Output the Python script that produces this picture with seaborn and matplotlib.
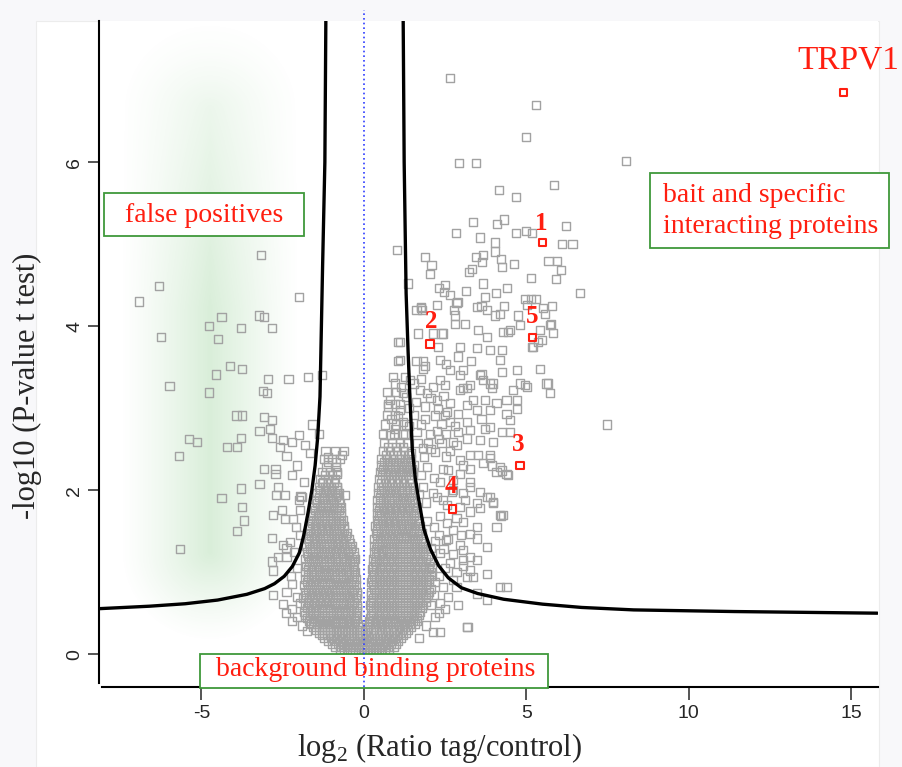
import numpy as np
import pandas as pd
import matplotlib
matplotlib.use('Agg')
import matplotlib.pyplot as plt
import seaborn as sns
from matplotlib.patches import Rectangle

# ---------------- data ----------------

# dense cloud around the origin, one row per line:  y | x values
core_rows = """
0.02 | -0.62 -0.44 -0.26 -0.08 0.10 0.28 0.46 0.64
0.055 | -0.74 -0.53 -0.35 -0.17 0.01 0.19 0.37 0.55 0.78
0.09 | -0.88 -0.70 -0.52 -0.34 -0.16 0.02 0.20 0.38 0.56 0.74 0.92
0.125 | -0.99 -0.79 -0.61 -0.43 -0.25 -0.07 0.11 0.29 0.47 0.65 0.83 1.00
0.16 | -1.10 -0.92 -0.74 -0.56 -0.38 -0.20 -0.03 0.15 0.33 0.51 0.69 0.87 1.05
0.195 | -1.21 -1.01 -0.83 -0.65 -0.47 -0.29 -0.11 0.06 0.24 0.42 0.60 0.78 0.96 1.13
0.23 | -1.30 -1.12 -0.94 -0.76 -0.58 -0.40 -0.22 -0.05 0.12 0.30 0.48 0.66 0.84 1.02 1.20
0.265 | -1.39 -1.21 -1.03 -0.85 -0.67 -0.49 -0.31 -0.13 0.04 0.21 0.39 0.57 0.75 0.93 1.11 1.29
0.30 | -1.48 -1.30 -1.12 -0.94 -0.76 -0.58 -0.40 -0.22 -0.06 0.11 0.28 0.46 0.64 0.82 1.00 1.18 1.36
0.335 | -1.55 -1.39 -1.21 -1.03 -0.85 -0.67 -0.49 -0.31 -0.13 0.14 0.37 0.55 0.73 0.91 1.09 1.27 1.45
0.37 | -1.62 -1.44 -1.26 -1.08 -0.90 -0.72 -0.54 -0.36 -0.18 0.18 0.34 0.52 0.70 0.88 1.06 1.24 1.42 1.56
0.405 | -1.69 -1.53 -1.35 -1.17 -0.99 -0.81 -0.63 -0.45 -0.27 0.17 0.25 0.43 0.61 0.79 0.97 1.15 1.33 1.51 1.64
0.44 | -1.75 -1.57 -1.39 -1.21 -1.03 -0.85 -0.67 -0.49 -0.31 -0.20 0.20 0.38 0.56 0.74 0.92 1.10 1.28 1.46 1.64
0.48 | -1.80 -1.66 -1.48 -1.30 -1.12 -0.94 -0.76 -0.58 -0.40 -0.24 0.22 0.29 0.47 0.65 0.83 1.01 1.19 1.37 1.55 1.71
0.52 | -1.84 -1.66 -1.48 -1.30 -1.12 -0.94 -0.76 -0.58 -0.40 -0.22 0.29 0.47 0.65 0.83 1.01 1.19 1.37 1.55 1.73
0.56 | -1.75 -1.57 -1.39 -1.21 -1.03 -0.85 -0.67 -0.49 -0.31 -0.20 0.21 0.38 0.56 0.74 0.92 1.10 1.28 1.46 1.64 1.80
0.60 | -1.80 -1.62 -1.44 -1.26 -1.08 -0.90 -0.72 -0.54 -0.36 -0.21 0.20 0.38 0.56 0.74 0.92 1.10 1.28 1.46 1.64 1.82
0.64 | -1.71 -1.53 -1.35 -1.17 -0.99 -0.81 -0.63 -0.45 -0.30 0.23 0.29 0.47 0.65 0.83 1.01 1.19 1.37 1.55 1.73 1.90
0.68 | -1.86 -1.68 -1.50 -1.32 -1.14 -0.96 -0.78 -0.60 -0.42 -0.24 0.29 0.47 0.65 0.83 1.01 1.19 1.37 1.55 1.73 1.91
0.72 | -1.77 -1.59 -1.41 -1.23 -1.05 -0.87 -0.69 -0.51 -0.33 -0.22 0.21 0.38 0.56 0.74 0.92 1.10 1.28 1.46 1.64 1.82 1.98
0.76 | -1.80 -1.62 -1.44 -1.26 -1.08 -0.90 -0.72 -0.54 -0.36 -0.22 0.22 0.38 0.56 0.74 0.92 1.10 1.28 1.46 1.64 1.82 2.00
0.80 | -1.71 -1.53 -1.35 -1.17 -0.99 -0.81 -0.63 -0.45 -0.30 0.30 0.47 0.65 0.83 1.01 1.19 1.37 1.55 1.73 1.91 2.05
0.84 | -1.84 -1.66 -1.48 -1.30 -1.12 -0.94 -0.76 -0.58 -0.40 -0.24 0.29 0.47 0.65 0.83 1.01 1.19 1.37 1.55 1.73 1.91
0.88 | -1.75 -1.57 -1.39 -1.21 -1.03 -0.85 -0.67 -0.49 -0.32 0.22 0.38 0.56 0.74 0.92 1.10 1.28 1.46 1.64 1.82 2.00
0.92 | -1.80 -1.62 -1.44 -1.26 -1.08 -0.90 -0.72 -0.54 -0.36 -0.25 0.24 0.38 0.56 0.74 0.92 1.10 1.28 1.46 1.64 1.82 2.00
0.96 | -1.71 -1.53 -1.35 -1.17 -0.99 -0.81 -0.63 -0.45 -0.31 0.31 0.47 0.65 0.83 1.01 1.19 1.37 1.55 1.73 1.91 2.08
1.00 | -1.82 -1.64 -1.46 -1.28 -1.10 -0.92 -0.74 -0.56 -0.38 -0.26 0.29 0.47 0.65 0.83 1.01 1.19 1.37 1.55 1.73 1.91 2.06
1.04 | -1.73 -1.55 -1.37 -1.19 -1.01 -0.83 -0.65 -0.47 -0.30 0.26 0.38 0.56 0.74 0.92 1.10 1.28 1.46 1.64 1.82 2.00
1.08 | -1.78 -1.60 -1.42 -1.24 -1.06 -0.88 -0.70 -0.52 -0.34 0.27 0.38 0.56 0.74 0.92 1.10 1.28 1.46 1.64 1.82 2.00
1.12 | -1.69 -1.51 -1.33 -1.15 -0.97 -0.79 -0.61 -0.43 -0.30 0.33 0.47 0.65 0.83 1.01 1.19 1.37 1.55 1.73 1.91 2.04
1.16 | -1.80 -1.62 -1.44 -1.26 -1.08 -0.90 -0.72 -0.54 -0.36 -0.28 0.29 0.47 0.65 0.83 1.01 1.19 1.37 1.55 1.73 1.91
1.20 | -1.71 -1.53 -1.35 -1.17 -0.99 -0.81 -0.63 -0.45 -0.32 0.36 0.56 0.74 0.92 1.10 1.28 1.46 1.64 1.82 1.96
1.24 | -1.76 -1.58 -1.40 -1.22 -1.04 -0.86 -0.68 -0.50 -0.32 0.30 0.45 0.60 0.76 0.92 1.10 1.28 1.46 1.64 1.82
1.28 | -1.67 -1.49 -1.31 -1.13 -0.95 -0.77 -0.59 -0.41 0.38 0.52 0.69 0.85 1.01 1.19 1.37 1.55 1.73 1.90
1.32 | -1.78 -1.60 -1.42 -1.24 -1.06 -0.88 -0.70 -0.52 -0.36 0.31 0.47 0.65 0.83 1.01 1.19 1.37 1.55 1.73 1.88
1.36 | -1.69 -1.51 -1.33 -1.15 -0.97 -0.79 -0.61 -0.44 0.40 0.56 0.74 0.92 1.10 1.28 1.46 1.64 1.82
1.40 | -1.72 -1.54 -1.36 -1.18 -1.00 -0.82 -0.64 -0.46 0.32 0.50 0.68 0.86 1.04 1.22 1.40 1.58 1.76
1.44 | -1.63 -1.45 -1.27 -1.09 -0.91 -0.73 -0.55 0.41 0.59 0.77 0.95 1.13 1.31 1.49 1.67
1.48 | -1.74 -1.56 -1.38 -1.20 -1.02 -0.84 -0.66 -0.52 0.36 0.54 0.72 0.90 1.08 1.26 1.44 1.62 1.78
1.52 | -1.65 -1.47 -1.29 -1.11 -0.93 -0.75 -0.60 0.42 0.63 0.81 0.99 1.17 1.35 1.53 1.70
1.56 | -1.68 -1.50 -1.32 -1.14 -0.96 -0.78 -0.60 0.35 0.50 0.68 0.86 1.04 1.22 1.40 1.58 1.74
1.60 | -1.59 -1.41 -1.23 -1.05 -0.87 -0.69 0.43 0.59 0.77 0.95 1.13 1.31 1.49 1.66
1.64 | -1.66 -1.48 -1.30 -1.12 -0.94 -0.76 -0.64 0.40 0.56 0.74 0.92 1.10 1.28 1.46 1.62
1.68 | -1.57 -1.39 -1.21 -1.03 -0.85 -0.70 0.48 0.65 0.83 1.01 1.19 1.37 1.54
1.72 | -1.58 -1.40 -1.22 -1.04 -0.86 -0.70 0.40 0.54 0.72 0.90 1.08 1.26 1.44 1.60
1.76 | -1.49 -1.31 -1.13 -0.95 -0.77 0.47 0.63 0.81 0.99 1.17 1.35 1.52
1.80 | -1.54 -1.36 -1.18 -1.00 -0.82 -0.70 0.42 0.60 0.78 0.96 1.14 1.32 1.50 1.64
1.84 | -1.45 -1.27 -1.09 -0.91 -0.75 0.51 0.69 0.87 1.05 1.23 1.41 1.57
1.88 | -1.48 -1.30 -1.12 -0.94 -0.76 0.42 0.58 0.76 0.94 1.12 1.30 1.48
1.92 | -1.39 -1.21 -1.03 -0.85 0.50 0.67 0.85 1.03 1.21 1.39
1.96 | -1.44 -1.26 -1.08 -0.90 -0.78 0.45 0.62 0.80 0.98 1.16 1.34 1.52
2.00 | -1.35 -1.17 -0.99 -0.83 0.53 0.71 0.89 1.07 1.25 1.43
2.04 | -1.38 -1.20 -1.02 -0.84 0.45 0.60 0.78 0.96 1.14 1.32 1.50
2.09 | -1.29 -1.11 -0.93 0.52 0.69 0.87 1.05 1.23 1.41
2.14 | -1.34 -1.10 -0.88 0.48 0.66 0.84 1.02 1.20 1.38
2.18 | -1.20 -0.97 0.57 0.75 0.93 1.11 1.29 1.45
2.22 | -1.28 -1.04 -0.82 0.50 0.64 0.82 1.00 1.18 1.36 1.52
2.26 | 0.59 0.79 0.97 1.15 1.33 1.48
2.30 | 0.52 0.70 0.88 1.06 1.24 1.42
2.34 | -1.10 -0.86 0.63 0.81 0.99 1.17 1.35
2.38 | -1.22 -0.98 -0.74 0.54 0.72 0.90 1.08 1.26 1.44
2.43 | 0.69 0.91 1.13 1.36
2.48 | -1.18 -0.90 -0.62 0.58 0.80 1.02 1.24
2.53 | 0.74 0.98 1.21
2.58 | 0.62 0.86 1.10 1.32
2.68 | 0.60 0.92 1.20
2.80 | 0.66 1.00 1.30
2.92 | 0.70 0.96
3.05 | 0.74 1.10
3.20 | 0.70 1.00
"""

# scattered points left of the threshold ("false positives" side)
left_points = [
    (-3.17, 4.87), (-6.30, 4.49), (-6.92, 4.30), (-2.00, 4.35), (-4.38, 4.11), (-4.76, 4.00),
    (-4.49, 3.84), (-6.25, 3.87), (-3.79, 3.98), (-3.23, 4.13), (-3.07, 4.11), (-2.84, 3.98),
    (-4.12, 3.51), (-3.75, 3.48), (-4.54, 3.41), (-5.98, 3.27), (-4.76, 3.19), (-2.94, 3.35),
    (-2.32, 3.35), (-1.73, 3.38), (-1.30, 3.40), (-3.11, 3.21), (-2.99, 3.18), (-3.92, 2.91),
    (-3.75, 2.91), (-3.06, 2.89), (-2.84, 2.86), (-3.21, 2.72), (-2.89, 2.75), (-1.58, 2.80),
    (-1.38, 2.69), (-5.39, 2.62), (-5.13, 2.59), (-5.70, 2.42), (-4.22, 2.53), (-3.91, 2.53),
    (-3.79, 2.64), (-2.84, 2.64), (-2.48, 2.61), (-2.21, 2.59), (-2.00, 2.67), (-2.58, 2.53),
    (-2.38, 2.42), (-3.06, 2.26), (-2.72, 2.26), (-2.72, 2.20), (-2.22, 2.18), (-3.21, 2.07),
    (-3.79, 2.02), (-2.63, 2.04), (-2.69, 1.94), (-2.43, 1.94), (-1.95, 1.93), (-4.38, 1.90),
    (-3.74, 1.80), (-3.68, 1.63), (-3.90, 1.50), (-5.66, 1.28), (-2.79, 1.70), (-2.84, 1.42),
    (-2.43, 1.65), (-2.17, 1.65), (-2.50, 1.33), (-2.38, 1.29), (-2.79, 0.72), (-2.48, 0.61),
    (-2.38, 0.76), (-2.53, 1.76), (-1.97, 1.76), (-1.92, 1.92), (-2.28, 1.37), (-2.64, 1.19),
    (-2.38, 1.19), (-2.79, 1.02), (-2.84, 1.13), (-2.22, 0.86), (-2.05, 0.45), (-1.90, 0.35),
    (-1.75, 0.28), (-2.20, 0.55), (-1.10, 2.40), (-0.67, 2.43), (-1.15, 2.28), (-0.87, 2.28),
    (-0.82, 2.20), (-1.25, 2.10), (-0.84, 2.04), (-0.58, 1.94), (-0.99, 1.92), (-0.79, 1.94),
    (-2.05, 0.70), (-2.25, 0.95), (-2.05, 1.05), (-2.15, 1.25), (-1.95, 1.45), (-2.10, 1.55),
    (-1.95, 0.62), (-2.20, 0.40), (-2.40, 0.50), (-2.00, 1.88), (-1.85, 2.10), (-2.05, 2.30),
    (-1.65, 2.45), (-1.80, 2.55),
]

# scattered points right of the origin
right_points = [
    (2.66, 7.03), (5.31, 6.70), (4.98, 6.31), (2.92, 5.99), (3.46, 5.99), (8.06, 6.01),
    (4.15, 5.66), (4.68, 5.57), (5.84, 5.72), (1.02, 4.93), (3.35, 5.27), (2.83, 5.14),
    (3.56, 5.08), (4.09, 5.25), (4.31, 5.30), (4.68, 5.14), (4.98, 5.16), (5.17, 5.14),
    (6.22, 5.22), (6.10, 5.00), (6.42, 5.00), (1.88, 4.84), (2.08, 4.74), (2.03, 4.64),
    (4.04, 5.02), (4.04, 4.91), (3.46, 4.84), (3.66, 4.87), (3.64, 4.78), (3.33, 4.70),
    (3.24, 4.66), (4.21, 4.82), (4.26, 4.72), (4.63, 4.76), (5.68, 4.79), (5.94, 4.79),
    (6.06, 4.68), (5.15, 4.59), (5.90, 4.57), (3.67, 4.52), (2.30, 4.46), (2.49, 4.50),
    (2.47, 4.42), (2.66, 4.38), (2.88, 4.29), (3.15, 4.43), (4.06, 4.40), (4.41, 4.46),
    (3.73, 4.35), (6.65, 4.40), (1.76, 4.23), (3.47, 4.23), (3.62, 4.25), (3.79, 4.20),
    (4.31, 4.24), (4.96, 4.33), (5.13, 4.33), (5.31, 4.33), (5.78, 4.24), (2.77, 4.20),
    (1.36, 4.52), (5.57, 4.15), (5.72, 4.01), (5.83, 3.92), (5.47, 3.83), (5.36, 3.81),
    (5.16, 3.75), (4.75, 4.13), (4.80, 4.01), (4.49, 3.95), (4.29, 3.93), (4.18, 4.15),
    (3.78, 3.87), (3.47, 3.73), (2.95, 3.75), (3.88, 3.71), (4.24, 3.71), (4.18, 3.59),
    (5.42, 3.48), (5.62, 3.30), (5.72, 3.18), (4.70, 3.46), (4.80, 3.30), (5.01, 3.26),
    (3.88, 3.30), (3.93, 3.24), (3.62, 3.42), (3.06, 3.46), (3.16, 3.24), (2.95, 3.22),
    (7.47, 2.80), (1.11, 3.81), (1.06, 3.57), (1.67, 3.91), (2.13, 3.91), (2.44, 3.91),
    (1.62, 4.20), (1.78, 4.20), (1.83, 3.57), (1.88, 3.51), (1.62, 3.57), (2.54, 3.54),
    (2.34, 3.34), (1.42, 3.34), (1.31, 3.14),
    (1.77, 4.22), (2.24, 4.26), (2.85, 4.28), (4.03, 4.13), (5.01, 4.26), (5.52, 4.22),
    (2.80, 4.13), (3.11, 4.03), (2.80, 4.03), (3.52, 3.95), (4.44, 3.93), (5.42, 3.95),
    (5.77, 4.03), (5.21, 3.75), (2.39, 3.91), (1.06, 3.81), (2.29, 3.75), (3.31, 3.57),
    (2.90, 3.63), (2.34, 3.59), (1.11, 3.59), (1.83, 3.48), (2.65, 3.46), (2.95, 3.40),
    (3.57, 3.40), (4.24, 3.44), (4.95, 3.28), (5.67, 3.30), (0.90, 3.38), (1.26, 3.38),
    (0.80, 3.10), (0.75, 3.02), (1.21, 3.18), (1.72, 3.22), (2.13, 3.26), (2.49, 3.28),
    (3.06, 3.24), (3.26, 3.28), (3.67, 3.34), (3.98, 3.30), (4.60, 3.22), (4.39, 3.10),
    (4.70, 3.10), (3.36, 3.10), (3.72, 3.10), (4.08, 3.06), (2.24, 3.10), (1.88, 3.02),
    (2.29, 2.99), (2.65, 3.06), (2.90, 2.93), (3.16, 3.04), (3.47, 2.98), (3.88, 2.98),
    (4.39, 2.93), (4.70, 2.99), (0.85, 2.87), (1.21, 2.83), (1.88, 2.87), (2.18, 2.91),
    (2.39, 2.81), (2.65, 2.83), (3.16, 2.83), (3.62, 2.87), (3.88, 2.77), (4.49, 2.85),
    (0.80, 2.67), (1.26, 2.69), (1.62, 2.71), (2.03, 2.69), (2.54, 2.69), (2.90, 2.71),
    (3.26, 2.73), (3.72, 2.75), (4.24, 2.71), (4.49, 2.71), (3.16, 2.63), (3.57, 2.61),
    (3.98, 2.59), (1.98, 2.57), (2.39, 2.57), (2.75, 2.59), (3.26, 2.43), (3.52, 2.43),
    (3.88, 2.43), (4.18, 2.28), (4.39, 2.20), (4.08, 2.22), (3.67, 2.33), (3.26, 2.26),
    (2.95, 2.37), (2.54, 2.41), (2.18, 2.47), (1.83, 2.51), (2.44, 2.26), (2.95, 2.20),
    (3.26, 2.10), (3.57, 1.98), (3.88, 1.92), (3.98, 1.86), (4.18, 1.70), (3.57, 1.78),
    (3.26, 1.74), (2.95, 1.80), (2.44, 1.88), (2.13, 1.96), (1.83, 2.04), (2.34, 2.10),
    (3.26, 2.04), (2.75, 2.00), (3.06, 1.61), (2.75, 1.51), (3.26, 1.47), (3.47, 1.41),
    (2.54, 1.39), (2.95, 1.33), (3.26, 1.19), (3.06, 1.07), (2.65, 1.11), (2.34, 1.23),
    (3.36, 0.94), (3.78, 0.98), (4.39, 0.82), (2.75, 0.90), (2.44, 0.82), (4.44, 2.18),
    (4.24, 2.24), (3.88, 2.39), (3.93, 2.30), (4.21, 1.69), (3.19, 0.33), (2.13, 0.27),
    (2.34, 0.27), (3.18, 0.33), (1.70, 0.20), (1.90, 0.35), (2.20, 0.45), (2.50, 0.55),
    (2.05, 0.60), (3.06, 1.15), (3.26, 1.02), (3.16, 0.94), (2.85, 0.82), (3.47, 0.74),
    (3.78, 0.66), (4.18, 0.82), (3.06, 1.96), (3.47, 1.84), (3.78, 1.92), (3.98, 1.84),
    (4.29, 1.70), (4.08, 1.55), (3.47, 1.55), (3.78, 1.31), (3.06, 1.27), (3.47, 1.15),
    (0.95, 3.30), (1.15, 3.26), (1.55, 3.30), (1.75, 3.36), (1.95, 3.18), (0.95, 3.05),
    (1.10, 2.98), (1.40, 3.00), (1.60, 3.08), (2.05, 3.12), (2.45, 3.15), (2.55, 2.95),
    (0.95, 2.75), (1.05, 2.90), (1.40, 2.78), (1.55, 2.92), (1.75, 2.80), (2.25, 2.72),
    (2.50, 2.92), (2.80, 2.78), (1.45, 2.45), (1.65, 2.58), (1.85, 2.40), (2.05, 2.50),
    (2.30, 2.62), (2.65, 2.48), (2.85, 2.55), (1.55, 2.30), (1.75, 2.18), (1.95, 2.28),
    (2.15, 2.15), (2.60, 2.25), (2.75, 2.12), (3.05, 2.30), (1.70, 1.95), (1.90, 1.85),
    (2.25, 1.92), (2.55, 1.82), (2.70, 1.98), (3.10, 1.88), (1.95, 1.62), (2.15, 1.55),
    (2.35, 1.68), (2.55, 1.60), (2.85, 1.66), (2.30, 1.45), (2.05, 1.30), (2.20, 1.38),
    (2.45, 1.28), (2.75, 1.22), (2.60, 1.40), (3.00, 1.45), (2.10, 1.05), (2.30, 0.95),
    (2.50, 1.05), (2.85, 1.00), (2.20, 0.88), (2.15, 0.72), (2.35, 0.62), (2.60, 0.70),
    (2.90, 0.60), (2.30, 0.50),
]

# threshold curves
left_curve_x = [-1.17, -1.20, -1.27, -1.35, -1.42, -1.50, -1.60, -1.72, -1.85, -1.98,
                -2.20, -2.45, -2.75, -3.05, -3.60, -4.50, -5.50, -6.60, -8.15]
left_curve_y = [7.72, 6.00, 4.73, 3.14, 2.65, 2.30, 2.00, 1.72, 1.45, 1.24,
                1.07, 0.95, 0.86, 0.80, 0.73, 0.66, 0.615, 0.585, 0.555]
right_curve_x = [1.21, 1.24, 1.30, 1.36, 1.42, 1.49, 1.58, 1.68, 1.85, 2.05,
                 2.30, 2.60, 3.00, 3.50, 4.30, 5.50, 6.70, 8.30, 11.40, 15.80]
right_curve_y = [7.72, 6.00, 4.40, 3.70, 3.10, 2.50, 2.15, 1.90, 1.52, 1.28,
                 1.08, 0.93, 0.81, 0.74, 0.67, 0.61, 0.57, 0.54, 0.52, 0.50]

# highlighted proteins
hit_x = [5.50, 2.03, 4.80, 2.72, 5.18, 14.75]
hit_y = [5.02, 3.78, 2.30, 1.77, 3.86, 6.85]
hit_labels = ['1', '2', '3', '4', '5', 'TRPV1']

x_ticks = [-5, 0, 5, 10, 15]
y_ticks = [0, 2, 4, 6]

# ---------------- build the table ----------------
rows_x, rows_y = [], []
for line in core_rows.strip().splitlines():
    yv, xs = line.split('|')
    for xv in xs.split():
        rows_x.append(float(xv))
        rows_y.append(float(yv))

pts = left_points + right_points
df = pd.DataFrame({'log2ratio': rows_x + [p[0] for p in pts],
                   'logp': rows_y + [p[1] for p in pts]})
hits = pd.DataFrame({'log2ratio': hit_x, 'logp': hit_y, 'name': hit_labels})

# ---------------- plot ----------------
sns.set_style('white')
plt.rcParams['font.family'] = ['Liberation Serif', 'DejaVu Serif']
plt.rcParams['mathtext.fontset'] = 'custom'
plt.rcParams['mathtext.rm'] = 'Liberation Serif'
plt.rcParams['axes.unicode_minus'] = False

W, H = 902, 767
fig = plt.figure(figsize=(W / 100, H / 100), dpi=100, facecolor='#f8f8fa')

def fx(px):
    return px / W

def fy(py):
    return 1 - py / H

# white panel behind the chart
fig.add_artist(Rectangle((fx(36), 0), fx(879) - fx(36), fy(21), facecolor='white',
                         edgecolor='#ececec', lw=0.8, zorder=-5, transform=fig.transFigure))

ax = fig.add_axes([fx(99), fy(687), fx(878) - fx(99), fy(21) - fy(687)])
ax.set_facecolor('white')
xmin, xmax, ymin, ymax = -8.15, 15.82, -0.40, 7.72

# green shading behind the false positives
gx = np.linspace(xmin, -1.4, 260)
gy = np.linspace(ymin, ymax, 420)
GX, GY = np.meshgrid(gx, gy)
dx = (GX + 4.74) * 32.5
dy = (GY - 3.95) * 82
hw, hh = 90.0, 312.0
seg = np.clip(np.abs(dy) - (hh - hw), 0, None)
t = np.clip((hw - np.sqrt(dx ** 2 + seg ** 2)) / hw, 0, 1)
wv = np.clip(0.3 + (ymax - GY) / 3.5 * 0.7, 0.3, 1.0)
rgba = np.zeros(GX.shape + (4,))
rgba[..., 0], rgba[..., 1], rgba[..., 2] = 0.45, 0.76, 0.45
rgba[..., 3] = 0.27 * t ** 1.2 * wv
ax.imshow(rgba, extent=[gx[0], gx[-1], gy[0], gy[-1]], origin='lower', aspect='auto',
          interpolation='bilinear', zorder=0.5)

sns.scatterplot(data=df, x='log2ratio', y='logp', marker='s', s=34, facecolor='none',
                edgecolor='#a2a2a2', linewidth=1.0, ax=ax, zorder=3, legend=False)

for cx, cy in [(left_curve_x, left_curve_y), (right_curve_x, right_curve_y)]:
    sns.lineplot(x=cx, y=cy, sort=False, estimator=None, color='black', linewidth=2.4,
                 ax=ax, zorder=4)

ax.plot([0, 0], [ymin, 7.86], color='#2d3cff', lw=1.2, ls=(0, (1, 1.8)), zorder=6,
        clip_on=False)

red = '#ff1e10'
sns.scatterplot(data=hits, x='log2ratio', y='logp', marker='s', s=28, facecolor='none',
                edgecolor=red, linewidth=1.5, ax=ax, zorder=7, legend=False)
offsets = [(-1, 14), (1, 16), (-1, 15), (-1, 16), (0, 15), (4, 23)]
for (_, r), off in zip(hits.iterrows(), offsets):
    big = r['name'] == 'TRPV1'
    ax.annotate(r['name'], (r['log2ratio'], r['logp']), xytext=off, textcoords='offset points',
                ha='center', va='center', color=red, fontsize=24 if big else 18,
                fontweight='normal' if big else 'bold', zorder=8, annotation_clip=False)

# annotation boxes (pixel layout of the reference)
green = '#3f983a'
boxes = [((104, 193, 304, 236), 'false positives', 'center', 204, 215),
         ((650, 173, 889, 248), 'bait and specific\ninteracting proteins', 'left', 663, 211),
         ((200, 654, 548, 688), 'background binding proteins', 'left', 216, 670)]
for (x0, y0, x1, y1), txt, ha, tx, ty in boxes:
    ax.add_patch(Rectangle((fx(x0), fy(y1)), fx(x1) - fx(x0), fy(y0) - fy(y1),
                           transform=fig.transFigure, facecolor='white', edgecolor=green,
                           lw=1.3, clip_on=False, zorder=5))
    ax.text(fx(tx), fy(ty), txt, transform=fig.transFigure, ha=ha, va='center',
            fontsize=20, color=red, zorder=8, linespacing=1.3)

ax.set_xlim(xmin, xmax)
ax.set_ylim(ymin, ymax)
ax.set_xticks(x_ticks)
ax.set_yticks(y_ticks)
ax.set_xlabel('')
ax.set_ylabel('')
for s in ['top', 'right']:
    ax.spines[s].set_visible(False)
ax.spines['left'].set_bounds(-0.35, ymax)
ax.spines['bottom'].set_bounds(-8.05, xmax)
for s in ['left', 'bottom']:
    ax.spines[s].set_linewidth(1.5)
    ax.spines[s].set_color('black')
ax.tick_params(axis='x', direction='out', length=9.5, width=1.1, pad=3.5, labelsize=14,
               bottom=True)
ax.tick_params(axis='y', direction='out', length=8, width=1.1, pad=3.5, labelsize=14,
               left=True, labelrotation=90)
for lab in ax.get_xticklabels() + ax.get_yticklabels():
    lab.set_family('Liberation Sans')
for lab in ax.get_yticklabels():
    lab.set_va('center')

fig.text(fx(27), fy(386), '-log10 (P-value t test)', rotation=90, ha='center', va='center',
         fontsize=22)
fig.text(fx(440), fy(756), r'log$_{\mathrm{2}}$ (Ratio tag/control)', ha='center',
         va='baseline', fontsize=22)

fig.savefig('out.png', dpi=100, facecolor=fig.get_facecolor())
